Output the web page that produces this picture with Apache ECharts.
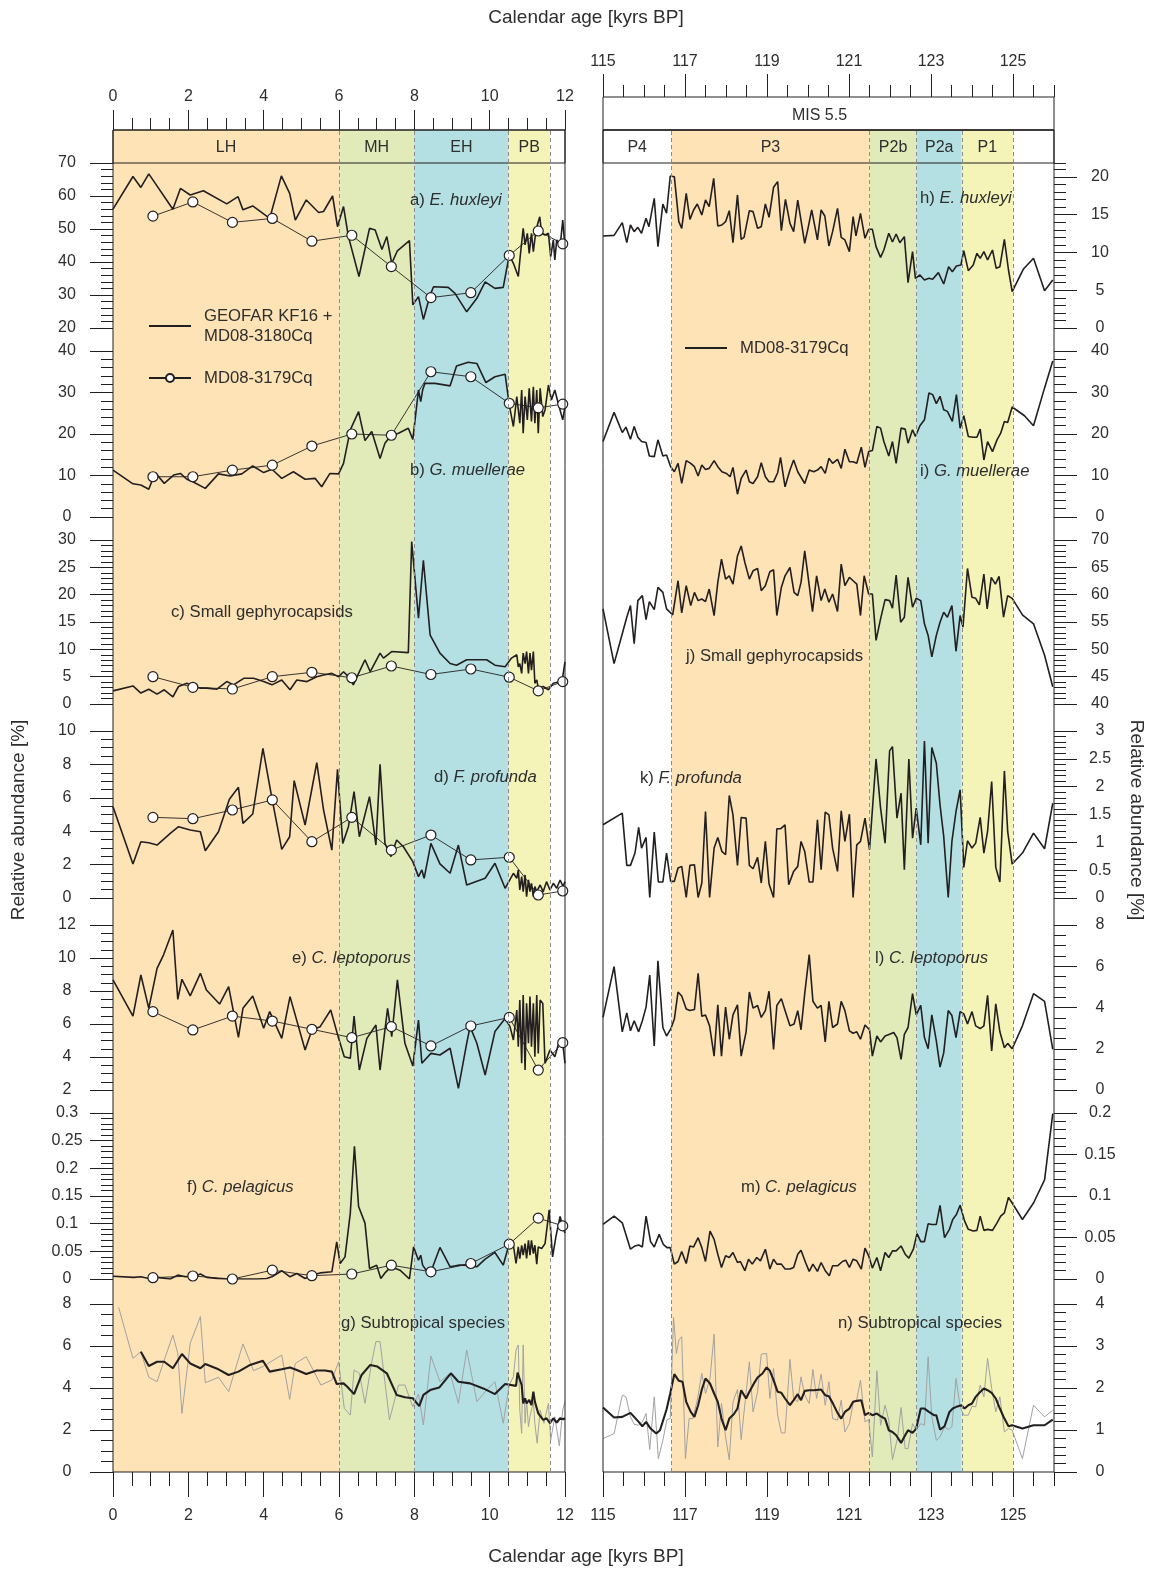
<!DOCTYPE html>
<html>
<head>
<meta charset="utf-8">
<title>Coccolithophore relative abundances</title>
<script src="https://cdn.jsdelivr.net/npm/echarts@6.0.0/dist/echarts.min.js"></script>
<style>
  html, body { margin: 0; padding: 0; background: #fff; }
  #chart { width: 1157px; height: 1571px; }
</style>
</head>
<body>
<div id="chart"></div>
<script>
// ---------------- data ----------------
// climatic intervals [name, from, to] (kyrs BP)
const holoceneZones = [['LH', 0, 6], ['MH', 6, 8], ['EH', 8, 10.5], ['PB', 10.5, 11.6]];
const eemianZones = [['P4', 115, 116.67], ['P3', 116.67, 121.5], ['P2b', 121.5, 122.65], ['P2a', 122.65, 123.75], ['P1', 123.75, 125]];

// age axis tick labels
const holoceneAgeTicks = [0, 2, 4, 6, 8, 10, 12];
const eemianAgeTicks = [115, 117, 119, 121, 123, 125];

// abundance axis tick labels
const yTicksA = [20, 30, 40, 50, 60, 70];
const yTicksB = [0, 10, 20, 30, 40];
const yTicksC = [0, 5, 10, 15, 20, 25, 30];
const yTicksD = [0, 2, 4, 6, 8, 10];
const yTicksE = [2, 4, 6, 8, 10, 12];
const yTicksF = [0, 0.05, 0.1, 0.15, 0.2, 0.25, 0.3];
const yTicksG = [0, 2, 4, 6, 8];
const yTicksH = [0, 5, 10, 15, 20];
const yTicksI = [0, 10, 20, 30, 40];
const yTicksJ = [40, 45, 50, 55, 60, 65, 70];
const yTicksK = [0, 0.5, 1, 1.5, 2, 2.5, 3];
const yTicksL = [0, 2, 4, 6, 8];
const yTicksM = [0, 0.05, 0.1, 0.15, 0.2];
const yTicksN = [0, 1, 2, 3, 4];

// GEOFAR KF16 + MD08-3180Cq (Holocene), [age, %]
const kf16Ehux = [[0,56.0],[0.53,65.9],[0.74,62.6],[0.95,66.7],[1.59,56.0],[1.79,62.3],[2.05,60.3],[2.40,61.6],[3.02,57.6],[3.32,59.8],[3.45,55.8],[3.71,57.0],[4.16,53.2],[4.47,66.1],[4.69,60.8],[4.84,52.7],[5.13,58.8],[5.46,55.0],[5.59,55.3],[5.83,60.0],[5.96,50.7],[6.12,56.8],[6.25,47.7],[6.53,35.6],[6.81,50.2],[6.96,49.7],[7.14,43.8],[7.27,47.7],[7.40,39.6],[7.55,43.4],[7.87,46.5],[7.96,27.0],[8.11,29.5],[8.24,22.6],[8.42,30.0],[8.51,32.5],[8.90,32.3],[9.08,30.5],[9.39,24.9],[9.66,29.0],[9.88,34.0],[10.14,32.0],[10.36,32.3],[10.52,42.1],[10.63,39.6],[10.76,35.6],[10.81,41.6],[10.89,50.2],[10.94,45.2],[11.00,48.7],[11.05,42.6],[11.11,48.7],[11.16,43.1],[11.23,49.7],[11.29,52.2],[11.33,53.7],[11.38,48.7],[11.47,48.2],[11.56,48.7],[11.62,41.6],[11.69,46.7],[11.73,40.6],[11.78,46.7],[11.87,44.6],[11.94,52.7],[12.00,44.6]];
const kf16Gmue = [[0,11.3],[0.53,8.0],[0.74,7.7],[0.95,6.7],[1.12,10.7],[1.17,10.9],[1.36,8.1],[1.61,10.1],[1.79,10.5],[1.96,9.1],[2.12,8.5],[2.45,6.9],[2.80,10.4],[3.11,9.9],[3.42,10.4],[3.71,12.3],[4.00,10.7],[4.22,11.5],[4.48,9.3],[4.79,10.9],[5.10,9.1],[5.37,9.3],[5.54,7.3],[5.76,10.5],[5.99,10.4],[6.12,12.9],[6.30,21.0],[6.52,25.4],[6.69,18.4],[6.87,20.6],[7.09,14.1],[7.22,17.8],[7.36,19.4],[7.58,20.2],[7.84,21.4],[7.96,18.7],[8.05,25.8],[8.11,30.6],[8.17,27.8],[8.22,30.6],[8.28,32.2],[8.55,32.2],[8.95,31.6],[9.12,36.4],[9.43,37.3],[9.66,37.0],[9.90,32.4],[10.14,33.8],[10.41,34.4],[10.52,27.0],[10.63,21.8],[10.72,29.0],[10.80,22.6],[10.85,30.6],[10.89,20.2],[10.94,29.0],[11.00,23.4],[11.05,31.0],[11.11,23.0],[11.16,31.4],[11.20,22.6],[11.25,30.6],[11.29,20.2],[11.34,31.0],[11.41,24.2],[11.47,25.8],[11.56,31.8],[11.64,28.2],[11.73,30.6],[11.82,27.4],[11.94,23.4],[12.00,26.6]];
const kf16SmallGeph = [[0,2.4],[0.53,3.3],[0.74,2.0],[0.95,2.7],[1.17,1.8],[1.36,2.6],[1.59,1.3],[1.74,3.2],[1.96,3.8],[2.12,3.3],[2.32,2.9],[2.49,2.9],[2.76,2.7],[3.02,4.1],[3.20,3.5],[3.47,4.7],[3.73,4.7],[4.00,4.1],[4.22,3.5],[4.48,4.4],[4.70,2.6],[4.88,4.4],[5.15,4.1],[5.41,5.0],[5.59,5.3],[5.81,5.6],[5.99,5.0],[6.12,5.9],[6.25,5.0],[6.38,3.5],[6.52,5.6],[6.69,8.1],[6.83,5.9],[7.09,9.3],[7.18,8.4],[7.40,9.6],[7.84,9.4],[7.93,29.7],[8.11,15.7],[8.24,26.3],[8.42,12.6],[8.68,9.3],[8.95,7.4],[9.12,7.1],[9.39,8.1],[9.92,8.1],[10.14,7.1],[10.41,6.8],[10.58,8.4],[10.72,9.0],[10.76,6.8],[10.80,7.4],[10.85,5.6],[10.89,9.3],[10.94,7.4],[10.98,9.6],[11.03,5.6],[11.07,9.3],[11.11,6.2],[11.16,9.6],[11.20,3.8],[11.25,4.4],[11.29,2.9],[11.42,3.2],[11.56,2.6],[11.69,3.8],[11.87,4.1],[11.94,5.0],[12.00,7.7]];
const kf16Fprof = [[0,5.47],[0.53,2.04],[0.74,3.37],[0.95,3.31],[1.17,3.17],[1.52,3.87],[1.74,4.27],[2.05,4.07],[2.32,3.97],[2.45,2.83],[2.80,3.97],[3.09,5.91],[3.33,6.63],[3.45,4.47],[3.71,5.03],[3.98,8.96],[4.22,5.97],[4.48,2.91],[4.69,3.67],[4.81,7.03],[5.10,4.37],[5.41,8.10],[5.59,5.27],[5.81,2.87],[5.96,7.70],[6.10,3.27],[6.25,4.27],[6.40,6.37],[6.54,3.67],[6.81,6.07],[6.98,3.17],[7.09,8.00],[7.22,3.27],[7.38,2.48],[7.53,3.47],[7.71,3.07],[7.96,2.18],[8.11,1.28],[8.20,1.68],[8.26,1.18],[8.44,3.27],[8.68,2.04],[8.95,1.48],[9.17,3.17],[9.39,0.78],[9.88,1.18],[10.14,2.08],[10.41,0.58],[10.63,1.48],[10.72,1.18],[10.76,1.68],[10.80,0.48],[10.85,1.28],[10.89,0.38],[10.94,1.38],[10.98,0.08],[11.03,1.08],[11.07,0.38],[11.11,0.88],[11.16,0.08],[11.20,0.68],[11.25,0.38],[11.34,0.78],[11.42,0.38],[11.51,0.98],[11.60,0.48],[11.69,0.88],[11.78,0.58],[11.87,1.08],[11.95,0.68],[12.00,0.98]];
const kf16Clept = [[0,8.67],[0.53,6.48],[0.74,8.97],[0.95,6.95],[1.17,9.37],[1.34,10.18],[1.59,11.70],[1.72,7.49],[1.83,8.71],[2.05,7.70],[2.32,9.07],[2.48,8.06],[2.83,7.21],[3.07,8.26],[3.33,5.19],[3.45,6.95],[3.71,7.70],[4.00,5.74],[4.16,6.75],[4.48,5.13],[4.70,7.66],[5.10,4.42],[5.28,5.64],[5.50,5.84],[5.78,6.85],[5.99,5.13],[6.14,4.02],[6.30,3.92],[6.40,6.48],[6.54,3.21],[6.74,5.13],[6.98,5.94],[7.09,3.21],[7.29,6.95],[7.40,5.23],[7.55,8.67],[7.75,4.83],[7.96,3.45],[8.11,6.24],[8.20,3.62],[8.44,4.22],[8.68,4.12],[8.95,4.53],[9.17,2.10],[9.39,4.83],[9.48,5.84],[9.66,4.83],[9.88,2.91],[10.14,5.54],[10.41,6.34],[10.54,5.84],[10.63,5.03],[10.72,6.85],[10.76,4.63],[10.80,7.45],[10.85,3.62],[10.89,7.76],[10.94,3.21],[10.98,7.25],[11.03,4.83],[11.07,7.66],[11.11,4.63],[11.16,7.25],[11.20,4.02],[11.25,7.76],[11.29,4.22],[11.34,7.45],[11.41,7.25],[11.47,3.62],[11.60,4.42],[11.73,4.02],[11.87,5.13],[11.94,4.83],[12.00,3.62]];
const kf16Cpel = [[0,0.005],[0.55,0.003],[0.74,0.004],[0.95,0.001],[1.17,0.003],[1.52,0],[1.72,0.007],[1.92,0.004],[2.14,0.004],[2.32,0.009],[2.49,0.003],[2.76,0.001],[3.02,0],[3.29,0],[3.55,0],[3.82,0],[4.08,0.001],[4.22,0.004],[4.48,0.015],[4.70,0.004],[4.88,0.010],[5.10,0.001],[5.28,0.007],[5.50,0.011],[5.81,0.013],[5.94,0.067],[6.03,0.028],[6.16,0.040],[6.30,0.119],[6.41,0.240],[6.52,0.131],[6.69,0.101],[6.81,0.019],[7.00,0.025],[7.11,0.001],[7.22,0.011],[7.38,0.022],[7.62,0.016],[7.87,0],[7.98,0.058],[8.11,0.034],[8.17,0.043],[8.22,0.025],[8.31,0.016],[8.44,0.013],[8.68,0.057],[8.95,0.022],[9.17,0.025],[9.35,0.025],[9.66,0.022],[9.88,0.036],[10.14,0.048],[10.36,0.025],[10.52,0.064],[10.63,0.061],[10.70,0.028],[10.76,0.058],[10.80,0.037],[10.85,0.061],[10.89,0.043],[10.94,0.064],[10.98,0.037],[11.03,0.070],[11.07,0.043],[11.11,0.070],[11.16,0.046],[11.20,0.061],[11.25,0.027],[11.29,0.058],[11.38,0.055],[11.47,0.064],[11.58,0.125],[11.67,0.040],[11.76,0.077],[11.87,0.113],[11.94,0.095],[12.00,0.083]];
const kf16Subtrop = [[0.15,7.84],[0.53,5.41],[0.74,5.73],[0.95,4.51],[1.17,4.30],[1.36,5.33],[1.59,6.52],[1.72,5.65],[1.83,2.79],[2.05,6.13],[2.32,7.40],[2.45,4.25],[2.80,4.51],[3.07,3.83],[3.45,6.10],[3.73,4.83],[3.98,5.02],[4.48,5.57],[4.69,3.46],[4.84,5.17],[5.13,5.49],[5.52,4.14],[5.81,4.38],[5.99,5.25],[6.14,3.03],[6.30,2.71],[6.40,4.86],[6.54,4.70],[6.69,3.27],[6.87,5.25],[6.98,6.21],[7.09,6.21],[7.34,2.48],[7.58,4.14],[7.75,4.14],[7.96,3.11],[8.11,3.71],[8.24,2.24],[8.44,5.52],[8.68,4.30],[8.95,4.70],[9.17,3.27],[9.39,5.81],[9.66,3.35],[9.92,3.90],[10.14,4.30],[10.36,2.32],[10.52,4.14],[10.63,4.54],[10.70,5.81],[10.76,6.05],[10.80,2.95],[10.85,1.84],[10.89,6.05],[10.94,2.32],[10.98,3.43],[11.03,2.16],[11.07,2.63],[11.16,3.35],[11.20,2.32],[11.26,1.37],[11.34,2.95],[11.44,2.32],[11.56,3.27],[11.62,1.52],[11.73,2.63],[11.85,1.24],[11.94,2.95],[12.00,3.35]];
const kf16SubtropSmooth = [[0.74,5.73],[0.95,5.05],[1.17,5.25],[1.36,5.25],[1.59,4.94],[1.83,5.62],[2.05,5.17],[2.32,4.94],[2.45,5.14],[2.80,4.89],[3.07,4.62],[3.33,4.78],[3.64,5.10],[3.98,5.30],[4.16,4.78],[4.48,4.89],[4.70,4.98],[4.88,4.86],[5.13,4.67],[5.41,4.83],[5.63,4.83],[5.81,4.78],[5.94,4.19],[6.12,4.22],[6.22,4.06],[6.40,3.71],[6.60,4.62],[6.83,5.10],[7.02,5.02],[7.27,4.70],[7.53,3.67],[7.75,3.56],[7.96,3.51],[8.13,3.14],[8.24,3.67],[8.42,3.90],[8.66,4.02],[8.97,4.70],[9.17,4.30],[9.48,4.22],[9.83,3.98],[10.14,3.71],[10.41,4.19],[10.70,4.10],[10.74,4.73],[10.85,4.14],[10.89,3.27],[10.94,3.51],[10.98,3.27],[11.05,3.43],[11.11,3.19],[11.16,3.83],[11.20,3.35],[11.25,3.27],[11.29,2.79],[11.34,2.87],[11.42,2.48],[11.51,2.56],[11.60,2.32],[11.69,2.56],[11.78,2.35],[11.87,2.56],[11.95,2.51],[12.00,2.56]];

// MD08-3179Cq (Holocene, open circles)
const md79HoloceneAges = [1.06, 2.12, 3.17, 4.23, 5.28, 6.34, 7.39, 8.44, 9.50, 10.52, 11.29, 11.94];
const md79Ehux = [53.9, 58.2, 52.0, 53.2, 46.3, 48.1, 38.6, 29.2, 30.7, 42.0, 49.4, 45.5];
const md79Gmue = [9.7, 9.7, 11.3, 12.5, 17.1, 20.0, 19.7, 35.0, 33.8, 27.4, 26.3, 27.2];
const md79SmallGeph = [5.0, 3.05, 2.74, 5.0, 5.8, 4.8, 6.95, 5.4, 6.4, 4.9, 2.4, 4.1];
const md79Fprof = [4.83, 4.75, 5.27, 5.87, 3.37, 4.83, 2.87, 3.77, 2.28, 2.44, 0.18, 0.42];
const md79Clept = [6.75, 5.64, 6.48, 6.18, 5.68, 5.17, 5.84, 4.67, 5.88, 6.40, 3.21, 4.87];
const md79Cpel = [0.0024, 0.0054, 0.0, 0.016, 0.006, 0.009, 0.025, 0.013, 0.028, 0.063, 0.110, 0.096];

// MD08-3179Cq (MIS 5.5), [age, %]
const eemEhux = [[115.00,12.19],[115.27,12.27],[115.47,13.95],[115.58,11.30],[115.67,13.64],[115.76,12.76],[115.85,13.33],[115.94,12.54],[116.05,14.53],[116.12,13.42],[116.25,17.17],[116.34,10.77],[116.46,16.42],[116.55,15.19],[116.64,20.13],[116.74,20.04],[116.85,14.08],[116.92,13.20],[117.03,17.84],[117.12,14.39],[117.21,15.63],[117.30,16.42],[117.41,14.97],[117.50,16.95],[117.59,16.07],[117.70,19.82],[117.80,13.51],[117.90,13.64],[117.99,14.08],[118.08,15.54],[118.17,11.30],[118.28,17.62],[118.37,11.74],[118.44,12.01],[118.57,15.54],[118.66,15.41],[118.77,13.20],[118.86,13.42],[118.96,16.42],[119.05,14.66],[119.16,18.63],[119.26,19.38],[119.35,12.89],[119.45,17.04],[119.56,13.86],[119.65,12.76],[119.75,16.95],[119.92,11.21],[120.00,13.20],[120.09,15.63],[120.23,11.66],[120.32,15.63],[120.41,14.83],[120.51,10.86],[120.60,12.76],[120.72,15.85],[120.81,12.01],[120.90,11.66],[121.01,10.11],[121.10,14.75],[121.17,12.19],[121.28,15.19],[121.39,11.88],[121.48,13.07],[121.57,13.07],[121.66,10.77],[121.77,9.36],[121.85,10.33],[121.97,12.54],[122.06,11.39],[122.15,12.45],[122.24,11.30],[122.35,12.10],[122.44,6.00],[122.55,10.11],[122.62,6.58],[122.73,7.02],[122.84,6.36],[122.95,6.58],[123.04,6.45],[123.18,7.33],[123.31,5.83],[123.43,8.12],[123.52,7.46],[123.62,8.21],[123.73,8.34],[123.80,10.24],[123.91,7.59],[124.03,8.34],[124.12,9.89],[124.20,9.23],[124.29,10.11],[124.38,9.01],[124.50,10.33],[124.59,7.90],[124.68,8.12],[124.79,11.74],[124.89,7.68],[124.98,4.81],[125.25,7.77],[125.50,9.23],[125.77,4.94],[125.97,6.36]];
const eemGmue = [[115.00,18.18],[115.27,25.21],[115.47,20.36],[115.56,21.66],[115.67,18.75],[115.76,21.82],[115.85,19.23],[115.94,18.18],[116.05,17.94],[116.13,14.71],[116.25,14.55],[116.34,18.59],[116.46,14.71],[116.55,14.95],[116.65,12.12],[116.74,10.91],[116.83,12.93],[116.92,8.08],[117.03,13.58],[117.14,12.93],[117.23,12.12],[117.32,9.86],[117.41,12.53],[117.50,11.47],[117.59,11.72],[117.71,13.58],[117.80,12.12],[117.90,10.91],[118.01,10.51],[118.10,9.70],[118.17,11.96],[118.28,5.49],[118.37,9.29],[118.49,11.31],[118.57,8.48],[118.66,8.08],[118.77,9.70],[118.86,13.09],[118.96,9.70],[119.05,8.48],[119.16,8.48],[119.26,10.67],[119.33,14.38],[119.44,7.27],[119.56,11.31],[119.65,13.74],[119.75,10.91],[119.92,8.08],[120.03,11.31],[120.14,10.91],[120.23,11.31],[120.32,12.12],[120.42,10.51],[120.51,14.14],[120.60,12.93],[120.72,13.90],[120.81,11.72],[120.90,16.32],[121.01,13.33],[121.10,13.33],[121.19,12.93],[121.30,16.81],[121.39,11.96],[121.48,15.76],[121.57,16.00],[121.68,21.82],[121.77,21.41],[121.85,18.18],[121.97,14.71],[122.06,18.18],[122.15,12.93],[122.27,21.41],[122.37,21.17],[122.44,17.78],[122.55,21.01],[122.62,19.39],[122.73,21.98],[122.84,23.43],[122.95,29.90],[123.04,29.49],[123.13,27.31],[123.22,29.09],[123.31,25.86],[123.40,25.45],[123.52,23.03],[123.62,29.49],[123.71,21.41],[123.80,24.40],[123.91,19.39],[124.03,19.23],[124.12,19.23],[124.20,21.17],[124.29,13.74],[124.38,18.18],[124.50,15.76],[124.61,18.59],[124.70,20.20],[124.79,23.03],[124.87,22.79],[124.98,26.51],[125.28,24.40],[125.50,21.98],[125.77,31.11],[125.97,37.58]];
const eemSmallGeph = [[115.00,57.39],[115.27,47.39],[115.47,52.85],[115.58,55.88],[115.67,58.00],[115.76,51.03],[115.85,58.91],[115.96,59.82],[116.05,55.45],[116.13,58.73],[116.25,57.27],[116.34,61.33],[116.46,60.42],[116.55,57.39],[116.70,56.30],[116.83,62.55],[116.92,56.67],[117.03,61.64],[117.14,58.00],[117.23,60.42],[117.32,58.91],[117.41,59.21],[117.50,58.73],[117.59,61.03],[117.71,56.18],[117.80,62.24],[117.89,66.48],[117.99,62.85],[118.08,63.45],[118.17,61.94],[118.28,67.09],[118.37,68.91],[118.46,65.88],[118.57,62.85],[118.66,64.36],[118.77,64.79],[118.86,60.73],[118.96,61.64],[119.07,64.18],[119.16,64.55],[119.24,56.18],[119.35,61.33],[119.44,63.45],[119.56,64.97],[119.66,60.42],[119.75,59.82],[119.83,62.24],[119.92,68.00],[120.00,63.45],[120.11,56.91],[120.21,63.45],[120.32,58.91],[120.41,61.03],[120.51,58.61],[120.60,60.12],[120.72,56.91],[120.81,65.58],[120.90,61.64],[121.01,63.15],[121.10,62.55],[121.19,61.94],[121.28,56.18],[121.37,63.45],[121.48,60.12],[121.57,60.12],[121.66,51.64],[121.77,55.58],[121.88,59.09],[121.99,58.91],[122.06,57.52],[122.15,63.58],[122.26,54.97],[122.35,55.88],[122.44,63.15],[122.55,57.70],[122.64,59.33],[122.75,58.91],[122.84,54.67],[122.93,52.55],[123.02,48.61],[123.13,52.55],[123.22,54.97],[123.31,56.79],[123.40,55.88],[123.51,58.00],[123.61,49.64],[123.71,56.18],[123.78,54.06],[123.89,64.79],[124.00,59.52],[124.09,59.33],[124.18,58.12],[124.29,63.76],[124.37,57.39],[124.47,63.15],[124.57,61.94],[124.66,63.33],[124.77,55.88],[124.87,59.82],[124.98,59.33],[125.23,56.30],[125.50,54.67],[125.77,48.91],[125.97,43.15]];
const eemFprof = [[115.00,1.315],[115.47,1.524],[115.58,0.586],[115.67,0.586],[115.78,0.807],[115.87,1.267],[115.94,0.897],[116.05,1.088],[116.14,0.012],[116.25,1.183],[116.35,0.287],[116.46,0.287],[116.55,0.807],[116.65,0.299],[116.74,0.299],[116.83,0.538],[116.92,0.568],[117.03,0.01],[117.12,0.586],[117.23,0.598],[117.32,0.01],[117.41,0.269],[117.50,1.554],[117.60,0.01],[117.71,0.897],[117.80,1.088],[117.90,0.837],[117.99,0.777],[118.08,1.841],[118.17,1.494],[118.28,0.586],[118.37,1.447],[118.49,1.435],[118.57,0.586],[118.66,0.526],[118.77,0.729],[118.86,0.269],[118.96,1.016],[119.05,0.251],[119.16,0.01],[119.24,1.243],[119.33,1.243],[119.44,1.315],[119.53,0.239],[119.65,0.478],[119.75,0.568],[119.83,1.016],[119.92,0.837],[120.03,0.287],[120.12,0.287],[120.23,1.405],[120.32,0.508],[120.42,1.542],[120.51,1.494],[120.60,0.897],[120.72,0.478],[120.81,1.566],[120.90,1.016],[121.01,1.506],[121.10,0.01],[121.19,0.956],[121.28,1.016],[121.39,1.435],[121.50,0.867],[121.66,2.498],[121.77,1.614],[121.88,0.986],[121.99,2.642],[122.06,2.720],[122.17,1.435],[122.27,1.883],[122.35,0.508],[122.46,2.498],[122.55,1.076],[122.64,1.614],[122.75,0.956],[122.84,2.821],[122.93,0.986],[123.02,2.702],[123.13,2.421],[123.22,1.674],[123.31,1.106],[123.42,0.01],[123.51,1.016],[123.61,1.554],[123.71,1.943],[123.80,0.550],[123.89,1.028],[124.00,0.897],[124.09,0.986],[124.20,1.447],[124.29,0.807],[124.38,1.195],[124.48,2.092],[124.58,0.550],[124.68,0.287],[124.79,2.283],[124.87,1.195],[124.98,0.610],[125.23,0.807],[125.50,1.166],[125.77,0.885],[125.97,1.704]];
const eemClept = [[115.00,3.52],[115.27,5.98],[115.47,2.82],[115.58,3.74],[115.67,2.87],[115.76,3.36],[115.87,2.82],[115.96,3.36],[116.05,4.02],[116.14,5.57],[116.25,2.13],[116.34,6.26],[116.46,3.03],[116.55,2.62],[116.65,2.95],[116.74,3.44],[116.83,4.75],[116.92,4.56],[117.03,3.93],[117.12,3.85],[117.23,3.90],[117.32,5.66],[117.41,3.57],[117.50,3.64],[117.60,3.11],[117.71,1.64],[117.80,4.13],[117.89,1.64],[117.99,4.02],[118.08,2.46],[118.17,3.64],[118.28,4.13],[118.37,1.64],[118.49,2.82],[118.57,4.75],[118.66,3.97],[118.77,4.10],[118.86,3.52],[118.96,3.85],[119.05,4.79],[119.16,1.97],[119.24,4.10],[119.35,4.43],[119.44,3.85],[119.56,3.11],[119.66,3.20],[119.75,3.85],[119.83,2.92],[119.92,4.67],[120.03,6.56],[120.12,4.30],[120.23,3.97],[120.32,4.10],[120.42,2.33],[120.51,4.30],[120.60,3.03],[120.72,3.20],[120.81,4.30],[120.90,3.85],[121.01,2.87],[121.10,2.75],[121.19,2.82],[121.28,2.46],[121.39,3.15],[121.50,2.92],[121.57,1.64],[121.68,2.62],[121.77,2.33],[121.88,2.62],[121.99,2.70],[122.09,2.79],[122.17,2.54],[122.27,1.48],[122.35,2.70],[122.44,3.03],[122.55,4.67],[122.64,3.64],[122.75,4.10],[122.84,2.54],[122.93,2.00],[123.02,3.64],[123.13,2.38],[123.22,1.11],[123.31,1.80],[123.42,3.85],[123.51,3.61],[123.61,2.54],[123.71,3.80],[123.80,3.69],[123.89,3.20],[124.00,3.80],[124.09,3.11],[124.20,2.98],[124.29,3.11],[124.38,4.59],[124.48,1.89],[124.58,4.18],[124.68,2.82],[124.79,2.05],[124.87,2.26],[124.98,2.00],[125.23,3.11],[125.50,4.67],[125.77,4.30],[125.97,1.97]];
const eemCpel = [[115.00,0.0657],[115.27,0.0757],[115.47,0.0677],[115.67,0.0359],[115.78,0.0398],[115.87,0.0410],[115.96,0.0386],[116.05,0.0757],[116.16,0.0450],[116.25,0.0386],[116.37,0.0538],[116.47,0.0418],[116.56,0.0378],[116.64,0.0378],[116.74,0.0179],[116.83,0.0211],[116.92,0.0331],[117.03,0.0187],[117.12,0.0398],[117.21,0.0386],[117.32,0.0498],[117.41,0.0378],[117.50,0.0211],[117.61,0.0578],[117.71,0.0478],[117.80,0.0299],[117.89,0.0139],[117.99,0.0279],[118.08,0.0259],[118.17,0.0319],[118.28,0.0199],[118.35,0.0211],[118.46,0.0100],[118.55,0.0239],[118.64,0.0179],[118.75,0.0259],[118.84,0.0219],[118.96,0.0359],[119.07,0.0120],[119.16,0.0239],[119.24,0.0179],[119.35,0.0179],[119.44,0.0120],[119.56,0.0120],[119.65,0.0139],[119.75,0.0299],[119.83,0.0347],[119.94,0.0199],[120.03,0.0092],[120.12,0.0179],[120.23,0.0092],[120.32,0.0199],[120.42,0.0100],[120.52,0.0040],[120.60,0.0159],[120.72,0.0159],[120.84,0.0211],[120.92,0.0227],[121.01,0.0139],[121.10,0.0239],[121.19,0.0219],[121.30,0.0120],[121.39,0.0371],[121.48,0.0279],[121.57,0.0131],[121.68,0.0259],[121.77,0.0100],[121.88,0.0319],[121.97,0.0259],[122.06,0.0339],[122.15,0.0339],[122.27,0.0398],[122.37,0.0299],[122.46,0.0251],[122.57,0.0359],[122.66,0.0546],[122.75,0.0450],[122.84,0.0450],[122.93,0.0665],[123.02,0.0657],[123.13,0.0657],[123.22,0.0888],[123.33,0.0498],[123.45,0.0598],[123.53,0.0717],[123.62,0.0777],[123.71,0.0888],[123.82,0.0697],[123.91,0.0598],[124.03,0.0578],[124.12,0.0586],[124.20,0.0757],[124.29,0.0586],[124.38,0.0598],[124.50,0.0586],[124.61,0.0677],[124.70,0.0757],[124.79,0.0797],[124.89,0.0984],[124.98,0.0916],[125.23,0.0717],[125.50,0.0916],[125.77,0.1195],[125.97,0.1992]];
const eemSubtrop = [[115.00,0.795],[115.27,0.915],[115.47,1.829],[115.56,1.789],[115.67,1.312],[115.76,1.137],[115.87,1.113],[115.96,1.193],[116.05,1.392],[116.14,0.533],[116.25,1.789],[116.35,0.318],[116.46,0.755],[116.56,1.249],[116.64,1.272],[116.72,3.682],[116.79,2.823],[116.85,3.141],[116.92,3.221],[117.01,0.318],[117.10,1.272],[117.19,1.272],[117.30,1.710],[117.41,2.346],[117.50,1.869],[117.61,2.227],[117.71,3.284],[117.80,0.596],[117.89,1.630],[117.99,0.835],[118.08,0.294],[118.17,1.670],[118.28,1.964],[118.37,0.771],[118.49,1.885],[118.57,2.624],[118.66,1.431],[118.77,1.909],[118.86,2.807],[118.99,2.823],[119.07,1.750],[119.16,2.465],[119.26,1.352],[119.35,0.930],[119.44,0.930],[119.56,2.680],[119.65,1.750],[119.75,1.670],[119.83,2.266],[119.92,1.829],[120.03,1.630],[120.12,2.441],[120.21,1.750],[120.32,2.330],[120.42,1.590],[120.51,2.147],[120.60,1.272],[120.72,1.233],[120.81,1.710],[120.90,0.954],[121.01,1.153],[121.10,1.630],[121.19,1.726],[121.28,2.187],[121.39,1.193],[121.48,1.249],[121.57,0.358],[121.68,2.410],[121.77,1.113],[121.88,1.590],[121.97,1.233],[122.06,0.294],[122.18,0.795],[122.27,1.535],[122.37,0.557],[122.44,0.557],[122.55,1.153],[122.64,0.994],[122.75,1.153],[122.84,1.113],[122.93,2.744],[123.02,1.312],[123.13,0.755],[123.22,0.835],[123.33,1.074],[123.42,1.010],[123.51,1.074],[123.61,2.227],[123.71,1.551],[123.80,1.352],[123.91,1.352],[124.00,1.567],[124.09,1.551],[124.20,2.068],[124.29,1.789],[124.38,2.704],[124.48,1.988],[124.58,1.431],[124.68,1.789],[124.79,0.954],[124.89,1.034],[124.98,0.994],[125.23,0.318],[125.50,1.590],[125.77,1.312],[125.97,1.471]];
const eemSubtropSmooth = [[115.00,1.535],[115.27,1.296],[115.47,1.312],[115.67,1.408],[115.87,1.193],[115.96,1.089],[116.05,1.193],[116.16,1.034],[116.30,0.915],[116.39,0.994],[116.55,1.487],[116.64,1.869],[116.74,2.330],[116.85,2.171],[116.94,2.147],[117.03,1.670],[117.14,1.431],[117.23,1.312],[117.32,1.590],[117.41,1.964],[117.50,2.227],[117.61,2.107],[117.71,1.869],[117.80,1.670],[117.89,1.272],[117.99,0.994],[118.08,1.272],[118.19,1.376],[118.28,1.511],[118.37,1.948],[118.49,1.750],[118.57,1.909],[118.69,2.123],[118.77,2.250],[118.89,2.346],[118.99,2.489],[119.07,2.410],[119.16,2.187],[119.26,1.909],[119.35,1.885],[119.44,1.750],[119.56,1.590],[119.65,1.710],[119.75,1.853],[119.83,1.710],[119.92,1.932],[120.03,1.948],[120.14,1.948],[120.32,1.964],[120.42,1.829],[120.51,1.805],[120.60,1.646],[120.72,1.408],[120.81,1.272],[120.90,1.431],[121.01,1.511],[121.10,1.670],[121.19,1.694],[121.30,1.710],[121.39,1.352],[121.48,1.408],[121.57,1.352],[121.68,1.392],[121.77,1.328],[121.88,1.272],[121.97,0.994],[122.06,0.954],[122.15,0.875],[122.27,0.692],[122.37,0.875],[122.44,0.994],[122.55,0.930],[122.64,1.034],[122.75,1.511],[122.84,1.511],[122.95,1.431],[123.07,1.352],[123.13,1.352],[123.22,1.010],[123.33,1.089],[123.45,1.431],[123.53,1.511],[123.62,1.551],[123.74,1.590],[123.82,1.511],[123.91,1.590],[124.00,1.630],[124.09,1.789],[124.18,1.885],[124.29,1.988],[124.38,1.948],[124.48,1.885],[124.58,1.750],[124.68,1.511],[124.79,1.272],[124.89,1.089],[124.98,1.113],[125.23,1.034],[125.50,1.113],[125.77,1.113],[125.97,1.249]];

// ---------------- style ----------------
const FONT = '"Liberation Sans", Arial, Helvetica, sans-serif';
const INK = '#231f20';
const TXT = '#2e2e2e';
const TICK_FONT = 16;
const LABEL_FONT = 16.7;
const zoneColor = {
  LH: '#fde3b5', MH: '#e1eab9', EH: '#b4e0e3', PB: '#f4f3b8',
  P4: 'rgba(255,255,255,0)', P3: '#fde3b5', P2b: '#e1eab9', P2a: '#b4e0e3', P1: '#f4f3b8'
};
// pixel rows of the seven stacked panels [top, bottom]
const rows = [[163, 328], [351, 517], [540, 704], [731, 898], [925, 1090], [1113, 1279], [1304, 1472]];

const LEFT = { left: 113, width: 452, min: 0, max: 12, pos: 'left', zones: holoceneZones, ageTicks: holoceneAgeTicks };
const RIGHT = { left: 603, width: 451, min: 115, max: 126, pos: 'right', zones: eemianZones, ageTicks: eemianAgeTicks };

const zip = (ages, vals) => ages.map((a, i) => [a, vals[i]]);
function steps(a, b, s) {
  const out = [];
  for (let v = a; v <= b + 1e-9; v += s) out.push(Math.round(v * 1e6) / 1e6);
  return out;
}

const coreStyle = { color: INK, width: 1.6 };
const thickStyle = { color: INK, width: 2.1 };
const grayStyle = { color: '#a2a2a2', width: 1 };
const CORE_NAME = 'GEOFAR KF16 +\nMD08-3180Cq';
const EEM_NAME = 'MD08-3179Cq MIS 5.5';

const leftPanels = [
  { range: [20, 70], ticks: yTicksA, minor: 2, label: ['a) ', 'E. huxleyi'], at: [410, 200], lines: [[kf16Ehux, coreStyle]], circles: md79Ehux },
  { range: [0, 40], ticks: yTicksB, minor: 2, label: ['b) ', 'G. muellerae'], at: [410, 470], lines: [[kf16Gmue, coreStyle]], circles: md79Gmue },
  { range: [0, 30], ticks: yTicksC, minor: 1, label: ['c) Small gephyrocapsids', ''], at: [171, 612], lines: [[kf16SmallGeph, coreStyle]], circles: md79SmallGeph },
  { range: [0, 10], ticks: yTicksD, minor: 0.5, label: ['d) ', 'F. profunda'], at: [434, 777], lines: [[kf16Fprof, coreStyle]], circles: md79Fprof },
  { range: [2, 12], ticks: yTicksE, minor: 0.5, label: ['e) ', 'C. leptoporus'], at: [292, 958], lines: [[kf16Clept, coreStyle]], circles: md79Clept },
  { range: [0, 0.3], ticks: yTicksF, minor: 0.01, label: ['f) ', 'C. pelagicus'], at: [187, 1187], lines: [[kf16Cpel, coreStyle]], circles: md79Cpel },
  { range: [0, 8], ticks: yTicksG, minor: 0.5, label: ['g) Subtropical species', ''], at: [341, 1323], lines: [[kf16Subtrop, grayStyle], [kf16SubtropSmooth, thickStyle]] }
];
const rightPanels = [
  { range: [0, 21.85], ticks: yTicksH, minor: 1, label: ['h) ', 'E. huxleyi'], at: [920, 198], lines: [[eemEhux, coreStyle]] },
  { range: [0, 40], ticks: yTicksI, minor: 2, label: ['i) ', 'G. muellerae'], at: [920, 471], lines: [[eemGmue, coreStyle]] },
  { range: [40, 70], ticks: yTicksJ, minor: 1, label: ['j) Small gephyrocapsids', ''], at: [686, 656], lines: [[eemSmallGeph, coreStyle]] },
  { range: [0, 3], ticks: yTicksK, minor: 0.1, label: ['k) ', 'F. profunda'], at: [640, 778], lines: [[eemFprof, coreStyle]] },
  { range: [0, 8], ticks: yTicksL, minor: 0.5, label: ['l) ', 'C. leptoporus'], at: [875, 958], lines: [[eemClept, coreStyle]] },
  { range: [0, 0.2], ticks: yTicksM, minor: 0.01, label: ['m) ', 'C. pelagicus'], at: [741, 1187], lines: [[eemCpel, coreStyle]] },
  { range: [0, 4], ticks: yTicksN, minor: 0.2, label: ['n) Subtropical species', ''], at: [838, 1323], lines: [[eemSubtrop, grayStyle], [eemSubtropSmooth, thickStyle]] }
];

// ---------------- option assembly ----------------
const grid = [], xAxis = [], yAxis = [], series = [], texts = [];

function addGrid(g) { grid.push(Object.assign({ show: false, z: 5, backgroundColor: 'transparent' }, g)); return grid.length - 1; }
function hiddenAxis(list, gi, min, max) {
  list.push({ gridIndex: gi, type: 'value', min, max, show: false, axisLine: { onZero: false } });
  return list.length - 1;
}
function tickAxis(list, gi, min, max, pos, values, len, label) {
  list.push({
    gridIndex: gi, type: 'value', min, max, position: pos, z: 6,
    splitLine: { show: false },
    axisLine: { show: false, onZero: false },
    axisTick: { show: true, inside: false, length: len, customValues: values, lineStyle: { color: INK, width: 1 } },
    axisLabel: label ? Object.assign({ show: true, customValues: values, fontSize: TICK_FONT, fontFamily: FONT, color: TXT }, label) : { show: false }
  });
  return list.length - 1;
}
const boxed = { show: true, borderColor: INK, borderWidth: 1 };

function buildSide(side, panels, lineName, withCircles) {
  // frame with the coloured intervals
  const fg = addGrid(Object.assign({ left: side.left, width: side.width, top: 130, height: 1342 }, boxed));
  const fx = tickAxis(xAxis, fg, side.min, side.max, 'bottom', side.ageTicks, 25, { margin: 36 });
  tickAxis(xAxis, fg, side.min, side.max, 'bottom', steps(side.min, side.max, 0.5), 14, null);
  const fy = hiddenAxis(yAxis, fg, 0, 1);
  series.push({
    type: 'line', xAxisIndex: fx, yAxisIndex: fy, data: [[side.min, -1]], showSymbol: false, silent: true, z: 1,
    lineStyle: { opacity: 0 },
    markArea: {
      silent: true,
      label: { show: true, position: 'insideTop', distance: 10, fontSize: TICK_FONT, fontFamily: FONT, color: TXT },
      data: side.zones.map(z => [{ name: z[0], xAxis: z[1], itemStyle: { color: zoneColor[z[0]] } }, { xAxis: z[2] }])
    },
    markLine: {
      silent: true, symbol: ['none', 'none'], label: { show: false },
      lineStyle: { type: [4, 3], color: '#8c8c8c', width: 1 },
      data: side.zones.map(z => ({ xAxis: z[2] }))
    }
  });
  // interval label row
  const hg = addGrid(Object.assign({ left: side.left, width: side.width, top: 130, height: 33 }, boxed));
  hiddenAxis(xAxis, hg, side.min, side.max); hiddenAxis(yAxis, hg, 0, 1);

  panels.forEach((p, r) => {
    const gi = addGrid({ left: side.left, width: side.width, top: rows[r][0], height: rows[r][1] - rows[r][0] });
    const xi = hiddenAxis(xAxis, gi, side.min, side.max);
    const yi = tickAxis(yAxis, gi, p.range[0], p.range[1], side.pos, p.ticks, 23, { margin: 46, align: 'center' });
    const minor = steps(p.range[0], p.range[1], p.minor);
    if (r === 0 && side === RIGHT) minor.push(p.range[1]);
    tickAxis(yAxis, gi, p.range[0], p.range[1], side.pos, minor, 12, null);
    p.lines.forEach(([data, style]) => {
      series.push({
        name: style === grayStyle ? 'raw' : (style === thickStyle ? 'smoothed' : lineName),
        type: 'line', data, xAxisIndex: xi, yAxisIndex: yi, symbol: 'none', showSymbol: false,
        silent: true, z: style === grayStyle ? 2 : 3, lineStyle: style,
        itemStyle: { color: style.color, opacity: 0 }
      });
    });
    if (withCircles && p.circles) {
      series.push({
        name: 'MD08-3179Cq', type: 'line', data: zip(md79HoloceneAges, p.circles), xAxisIndex: xi, yAxisIndex: yi,
        symbol: 'circle', symbolSize: 10, showSymbol: true, silent: true, z: 4,
        lineStyle: { color: INK, width: 0.9 },
        itemStyle: { color: '#ffffff', borderColor: INK, borderWidth: 1.2 }
      });
    }
    texts.push({
      type: 'text', x: p.at[0], y: p.at[1], z: 50, silent: true,
      style: {
        text: p.label[1] ? '{n|' + p.label[0] + '}{i|' + p.label[1] + '}' : '{n|' + p.label[0] + '}',
        rich: {
          n: { fontSize: LABEL_FONT, fontFamily: FONT, fill: TXT },
          i: { fontSize: LABEL_FONT, fontFamily: FONT, fill: TXT, fontStyle: 'italic' }
        },
        align: 'left', verticalAlign: 'middle'
      }
    });
  });
}

buildSide(LEFT, leftPanels, CORE_NAME, true);
buildSide(RIGHT, rightPanels, EEM_NAME, false);

// top age axes
(function () {
  // Holocene: on top of the interval row
  const tg = addGrid({ left: LEFT.left, width: LEFT.width, top: 130, height: 33 });
  tickAxis(xAxis, tg, 0, 12, 'top', holoceneAgeTicks, 20, { margin: 25 });
  tickAxis(xAxis, tg, 0, 12, 'top', steps(0, 12, 0.5), 12, null);
  hiddenAxis(yAxis, tg, 0, 1);
  // MIS 5.5 row
  const mg = addGrid(Object.assign({ left: RIGHT.left, width: RIGHT.width, top: 97, height: 33 }, boxed));
  const mx = tickAxis(xAxis, mg, 115, 126, 'top', eemianAgeTicks, 23, { margin: 27 });
  tickAxis(xAxis, mg, 115, 126, 'top', steps(115, 126, 0.5), 12, null);
  const my = hiddenAxis(yAxis, mg, 0, 1);
  series.push({
    type: 'line', xAxisIndex: mx, yAxisIndex: my, data: [[115, -1]], showSymbol: false, silent: true, z: 1,
    lineStyle: { opacity: 0 },
    markArea: {
      silent: true,
      label: { show: true, position: 'inside', offset: [-9, 2], fontSize: TICK_FONT, fontFamily: FONT, color: TXT },
      data: [[{ name: 'MIS 5.5', xAxis: 115, itemStyle: { color: 'rgba(255,255,255,0)' } }, { xAxis: 126 }]]
    }
  });
})();

const axisTitle = { fontSize: 19, fontFamily: FONT, fill: TXT, align: 'center', verticalAlign: 'middle' };
texts.push(
  { type: 'text', x: 586, y: 18, z: 50, silent: true, style: Object.assign({ text: 'Calendar age [kyrs BP]' }, axisTitle) },
  { type: 'text', x: 586, y: 1557, z: 50, silent: true, style: Object.assign({ text: 'Calendar age [kyrs BP]' }, axisTitle) },
  { type: 'text', x: 19, y: 820, z: 50, rotation: Math.PI / 2, silent: true, style: Object.assign({ text: 'Relative abundance [%]' }, axisTitle) },
  { type: 'text', x: 1136, y: 820, z: 50, rotation: -Math.PI / 2, silent: true, style: Object.assign({ text: 'Relative abundance [%]' }, axisTitle) }
);

const legendBase = {
  orient: 'vertical', itemWidth: 42, itemHeight: 10, padding: 0, selectedMode: false, z: 50,
  textStyle: { fontSize: LABEL_FONT, fontFamily: FONT, color: TXT, lineHeight: 20, padding: [0, 0, 0, 8] }
};

const chart = echarts.init(document.getElementById('chart'), null, { renderer: 'canvas' });
chart.setOption({
  animation: false,
  backgroundColor: '#ffffff',
  grid, xAxis, yAxis, series,
  legend: [
    Object.assign({}, legendBase, { data: [CORE_NAME], left: 148, top: 306 }),
    Object.assign({}, legendBase, { data: ['MD08-3179Cq'], left: 148, top: 368 }),
    Object.assign({}, legendBase, { data: [EEM_NAME], left: 684, top: 338, formatter: () => 'MD08-3179Cq' })
  ],
  graphic: { elements: texts }
});
</script>
</body>
</html>
